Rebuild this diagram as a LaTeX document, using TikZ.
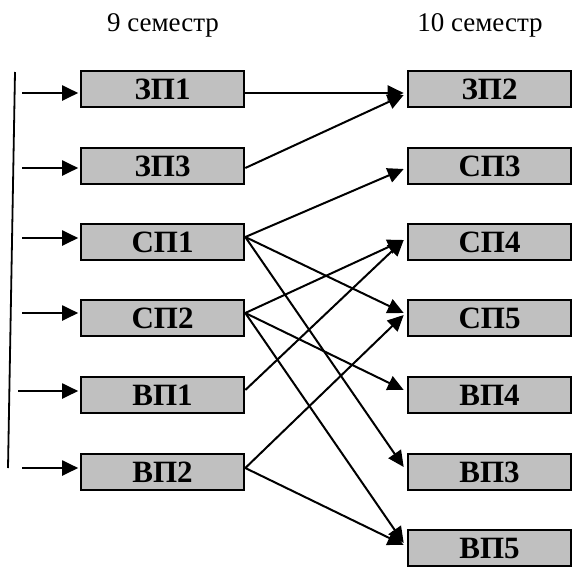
\documentclass[tikz,border=0pt]{standalone}
\usepackage{fontspec}
\setmainfont{Liberation Serif}
\usetikzlibrary{arrows.meta,calc}
\tikzset{
  box/.style={draw=black,line width=2.6pt,fill=boxgray,minimum width=163pt,minimum height=36pt,inner sep=0pt,
    font=\fontsize{31}{31}\selectfont\bfseries},
  hdr/.style={font=\fontsize{27}{27}\selectfont,anchor=base},
  conn/.style={line width=2pt,-{Triangle[length=16pt,width=15pt]}},
}
\definecolor{boxgray}{RGB}{192,192,192}
\begin{document}
\begin{tikzpicture}[x=1pt,y=-1pt]
\useasboundingbox (0,0) rectangle (572,570);
% headers
\node[hdr] (h9) at (163,31) {9 семестр};
\node[hdr] (h10) at (480,31) {10 семестр};
% left column
\node[box] (zp1) at (162.5,89) {ЗП1};
\node[box] (zp3) at (162.5,166) {ЗП3};
\node[box] (sp1) at (162.5,242) {СП1};
\node[box] (sp2) at (162.5,318) {СП2};
\node[box] (vp1) at (162.5,395) {ВП1};
\node[box] (vp2) at (162.5,472) {ВП2};
% right column
\node[box] (zp2) at (489.5,89) {ЗП2};
\node[box] (sp3) at (489.5,166) {СП3};
\node[box] (sp4) at (489.5,242) {СП4};
\node[box] (sp5) at (489.5,318) {СП5};
\node[box] (vp4) at (489.5,395) {ВП4};
\node[box] (vp3) at (489.5,472) {ВП3};
\node[box] (vp5) at (489.5,548) {ВП5};
% vertical line
\coordinate (vt) at (15,72);
\coordinate (vb) at (8,468);
\draw[line width=1.8pt] (vt) -- (vb);
% input arrows
\coordinate (i1) at (22,93);
\coordinate (i2) at (22,168);
\coordinate (i3) at (22,238);
\coordinate (i4) at (22,313);
\coordinate (i5) at (18,391);
\coordinate (i6) at (22,468);
\draw[conn,shorten >=1.5pt] (i1) -- (i1 -| zp1.west);
\draw[conn,shorten >=1.5pt] (i2) -- (i2 -| zp3.west);
\draw[conn,shorten >=1.5pt] (i3) -- (i3 -| sp1.west);
\draw[conn,shorten >=1.5pt] (i4) -- (i4 -| sp2.west);
\draw[conn,shorten >=1.5pt] (i5) -- (i5 -| vp1.west);
\draw[conn,shorten >=1.5pt] (i6) -- (i6 -| vp2.west);
% connections
\draw[conn] ($(zp1.east)+(0,4)$) -- ($(zp2.west)+(-3,4)$);
\draw[conn] ($(zp3.east)+(0,2)$) -- ($(zp2.west)+(-3,6)$);
\draw[conn] ($(sp1.east)+(0,-5)$) -- ($(sp3.west)+(-3,3)$);
\draw[conn] ($(sp1.east)+(0,-5)$) -- ($(sp5.west)+(-3,-5)$);
\draw[conn] ($(sp1.east)+(0,-5)$) -- ($(vp3.west)+(-3,-5)$);
\draw[conn] ($(sp2.east)+(0,-5)$) -- ($(sp4.west)+(-3,-2)$);
\draw[conn] ($(sp2.east)+(0,-5)$) -- ($(vp4.west)+(-3,-5)$);
\draw[conn] ($(sp2.east)+(0,-5)$) -- ($(vp5.west)+(-3,-5)$);
\draw[conn] ($(vp1.east)+(0,-5)$) -- ($(sp4.west)+(-3,-2)$);
\draw[conn] ($(vp2.east)+(0,-4)$) -- ($(sp5.west)+(-3,-3)$);
\draw[conn] ($(vp2.east)+(0,-4)$) -- ($(vp5.west)+(-3,-3)$);
\end{tikzpicture}
\end{document}
